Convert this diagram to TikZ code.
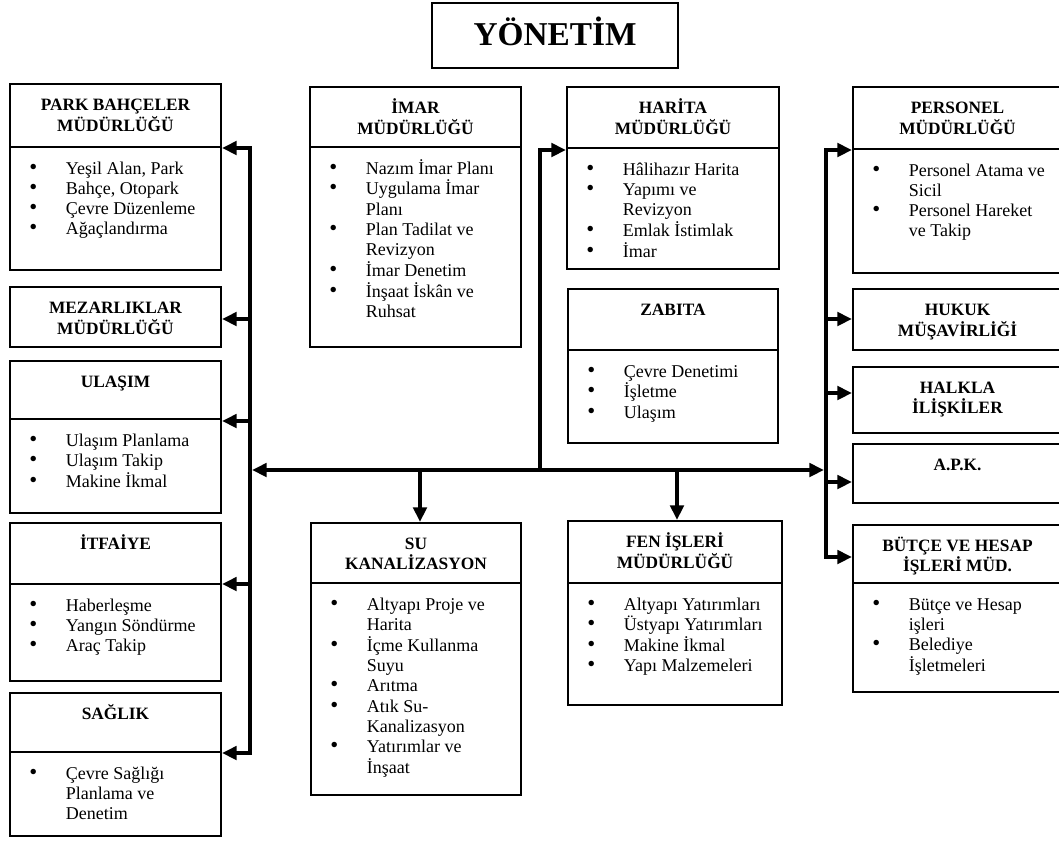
\documentclass[tikz,border=0pt]{standalone}
\usepackage{fontspec}
\setmainfont{Liberation Serif}
\usetikzlibrary{arrows.meta,fit,calc}

\tikzset{
  unit/.style={draw, line width=1.5pt, inner sep=0pt},
  rule/.style={line width=1.5pt},
  bus/.style={line width=3pt, line join=miter},
  tip/.style={-{Triangle[length=11pt,width=10pt]}},
  headtext/.style={inner sep=0pt, anchor=base, font=\fontsize{13}{15}\selectfont\bfseries},
  listtext/.style={inner sep=0pt, anchor=base west, font=\fontsize{13.5}{15.2}\selectfont},
}

% list bullet, a little heavier than the text's own
\newcommand\itemdot{\smash{\fontsize{17}{15.2}\selectfont •}}

% a framed unit with its centred heading
\newcommand\unitbox[6]{%
  \node[unit, fit={(#2,#3)(#4,#5)}] (#1) {};
  \node[headtext] (#1-head) at ({(#2+#4)/2},{#3+26}) {\begin{tabular}[t]{@{}c@{}}#6\end{tabular}};
}
% the dividing rule and the bulleted duties below it
\newcommand\unitlist[5]{%
  \draw[rule] (#2,#4) -- (#3,#4);
  \node[listtext] (#1-list) at ({#2+19},{#4+27}) {\begin{tabular}[t]{@{}p{27.5pt}@{}l@{}}#5\end{tabular}};
}

\begin{document}
\begin{tikzpicture}[x=0.75pt,y=-0.75pt]
\useasboundingbox (0,0) rectangle (1059,840);
\clip (0,0) rectangle (1059,840);

% top management
\node[unit, fit={(432,3)(678,68)}] (yonetim) {};
\node[inner sep=0pt, anchor=base, font=\fontsize{25}{30}\selectfont\bfseries] (yonetim-label) at (555,45) {YÖNETİM};

% left column
\unitbox{park}{10}{84}{221}{270}{PARK BAHÇELER\\MÜDÜRLÜĞÜ}
\unitlist{park}{10}{221}{147}{\itemdot & Yeşil Alan, Park\\ \itemdot & Bahçe, Otopark\\ \itemdot & Çevre Düzenleme\\ \itemdot & Ağaçlandırma}

\unitbox{mezar}{10}{287}{221}{347}{MEZARLIKLAR\\MÜDÜRLÜĞÜ}

\unitbox{ulasim}{10}{361}{221}{513}{ULAŞIM}
\unitlist{ulasim}{10}{221}{419}{\itemdot & Ulaşım Planlama\\ \itemdot & Ulaşım Takip\\ \itemdot & Makine İkmal}

\unitbox{itfaiye}{10}{523}{221}{681}{İTFAİYE}
\unitlist{itfaiye}{10}{221}{584}{\itemdot & Haberleşme\\ \itemdot & Yangın Söndürme\\ \itemdot & Araç Takip}

\unitbox{saglik}{10}{693}{221}{836}{SAĞLIK}
\unitlist{saglik}{10}{221}{752}{\itemdot & Çevre Sağlığı\\ & Planlama ve\\ & Denetim}

% middle columns
\unitbox{imar}{310}{87}{521}{347}{İMAR\\MÜDÜRLÜĞÜ}
\unitlist{imar}{310}{521}{147}{\itemdot & Nazım İmar Planı\\ \itemdot & Uygulama İmar\\ & Planı\\ \itemdot & Plan Tadilat ve\\ & Revizyon\\ \itemdot & İmar Denetim\\ \itemdot & İnşaat İskân ve\\ & Ruhsat}

\unitbox{harita}{567}{87}{779}{269}{HARİTA\\MÜDÜRLÜĞÜ}
\unitlist{harita}{567}{779}{148}{\itemdot & Hâlihazır Harita\\ \itemdot & Yapımı ve\\ & Revizyon\\ \itemdot & Emlak İstimlak\\ \itemdot & İmar}

\unitbox{zabita}{568}{289}{778}{443}{ZABITA}
\unitlist{zabita}{568}{778}{350}{\itemdot & Çevre Denetimi\\ \itemdot & İşletme\\ \itemdot & Ulaşım}

\unitbox{su}{311}{523}{521}{795}{SU\\KANALİZASYON}
\unitlist{su}{311}{521}{583}{\itemdot & Altyapı Proje ve\\ & Harita\\ \itemdot & İçme Kullanma\\ & Suyu\\ \itemdot & Arıtma\\ \itemdot & Atık Su-\\ & Kanalizasyon\\ \itemdot & Yatırımlar ve\\ & İnşaat}

\unitbox{fen}{568}{521}{782}{705}{FEN İŞLERİ\\MÜDÜRLÜĞÜ}
\unitlist{fen}{568}{782}{583}{\itemdot & Altyapı Yatırımları\\ \itemdot & Üstyapı Yatırımları\\ \itemdot & Makine İkmal\\ \itemdot & Yapı Malzemeleri}

% right column
\unitbox{personel}{853}{87}{1062}{273}{PERSONEL\\MÜDÜRLÜĞÜ}
\unitlist{personel}{853}{1062}{149}{\itemdot & Personel Atama ve\\ & Sicil\\ \itemdot & Personel Hareket\\ & ve Takip}

\unitbox{hukuk}{853}{289}{1062}{350}{HUKUK\\MÜŞAVİRLİĞİ}
\unitbox{halkla}{853}{367}{1062}{433}{HALKLA\\İLİŞKİLER}
\unitbox{apk}{853}{444}{1062}{503}{A.P.K.}

\unitbox{butce}{853}{525}{1062}{692}{BÜTÇE VE HESAP\\İŞLERİ MÜD.}
\unitlist{butce}{853}{1062}{583}{\itemdot & Bütçe ve Hesap\\ & işleri\\ \itemdot & Belediye\\ & İşletmeleri}

% bus junctions
\coordinate (ltop) at (250,148);
\coordinate (lbot) at (250,753);
\coordinate (rtop) at (826,150);
\coordinate (rbot) at (826,557);
\coordinate (hwest) at (252,470);
\coordinate (heast) at (824,470);
\coordinate (riser) at (540,470);
\coordinate (rbend) at (540,150);
\coordinate (dropsu) at (420,470);
\coordinate (dropfen) at (677,470);

% left bus
\draw[bus,{Triangle[length=11pt,width=10pt]}-{Triangle[length=11pt,width=10pt]}]
  (ltop -| park.east) -- (ltop) -- (lbot) -- (lbot -| saglik.east);
\draw[bus,tip] (250,319) -- (mezar.east |- 250,319);
\draw[bus,tip] (250,421) -- (ulasim.east |- 250,421);
\draw[bus,tip] (250,584) -- (itfaiye.east |- 250,584);

% right bus
\draw[bus,{Triangle[length=11pt,width=10pt]}-{Triangle[length=11pt,width=10pt]}]
  (rtop -| personel.west) -- (rtop) -- (rbot) -- (rbot -| butce.west);
\draw[bus,tip] (826,319) -- (hukuk.west |- 826,319);
\draw[bus,tip] (826,393) -- (halkla.west |- 826,393);
\draw[bus,tip] (826,482) -- (apk.west |- 826,482);

% main horizontal bus and its branches
\draw[bus,{Triangle[length=11pt,width=10pt]}-{Triangle[length=11pt,width=10pt]}] (hwest) -- (heast);
\draw[bus,tip] (riser) -- (rbend) -- (rbend -| harita.west);
\draw[bus,tip] (dropsu) -- (dropsu |- su.north);
\draw[bus,tip] (dropfen) -- (dropfen |- fen.north);
\end{tikzpicture}
\end{document}
